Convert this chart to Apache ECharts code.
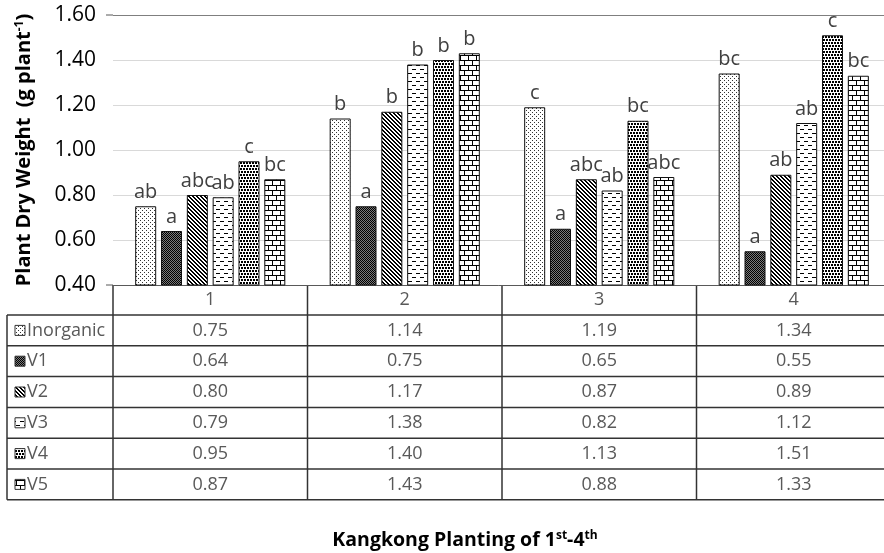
<!DOCTYPE html>
<html>
<head>
<meta charset="utf-8">
<script src="https://cdn.jsdelivr.net/npm/echarts@6/dist/echarts.min.js"></script>
<style>
  html, body { margin: 0; padding: 0; background: #fff; }
  #chart { width: 884px; height: 553px; }
</style>
</head>
<body>
<div id="chart"></div>
<script>
// data
const plantings = ['1', '2', '3', '4']
const seriesNames = ['Inorganic', 'V1', 'V2', 'V3', 'V4', 'V5']
const inorganic = [0.75, 1.14, 1.19, 1.34]
const v1 = [0.64, 0.75, 0.65, 0.55]
const v2 = [0.80, 1.17, 0.87, 0.89]
const v3 = [0.79, 1.38, 0.82, 1.12]
const v4 = [0.95, 1.40, 1.13, 1.51]
const v5 = [0.87, 1.43, 0.88, 1.33]
const seriesValues = [inorganic, v1, v2, v3, v4, v5]
// significance letters shown above the bars
const inorganicLetters = ['ab', 'b', 'c', 'bc']
const v1Letters = ['a', 'a', 'a', 'a']
const v2Letters = ['abc', 'b', 'abc', 'ab']
const v3Letters = ['ab', 'b', 'ab', 'ab']
const v4Letters = ['c', 'b', 'bc', 'c']
const v5Letters = ['bc', 'b', 'abc', 'bc']
const seriesLetters = [inorganicLetters, v1Letters, v2Letters, v3Letters, v4Letters, v5Letters]
const yTicks = [0.4, 0.6, 0.8, 1.0, 1.2, 1.4, 1.6]

const FONT = '"Open Sans", Lato, sans-serif'

// small canvas patterns for the black & white fills
const makePattern = (w, h, draw) => {
  const c = document.createElement('canvas')
  c.width = w
  c.height = h
  const g = c.getContext('2d')
  g.fillStyle = '#fff'
  g.fillRect(0, 0, w, h)
  g.fillStyle = '#000'
  draw(g)
  return { image: c, repeat: 'repeat' }
}

const patterns = [
  // inorganic: sparse dots
  makePattern(4, 4, g => { g.fillStyle = '#333'; g.fillRect(0, 0, 1, 1); g.fillRect(2, 2, 1, 1) }),
  // V1: dark fine checker
  makePattern(2, 2, g => { g.fillRect(0, 0, 2, 2); g.fillStyle = '#7a7a7a'; g.fillRect(1, 0, 1, 1); g.fillRect(0, 1, 1, 1) }),
  // V2: diagonal lines
  makePattern(4, 4, g => { for (let i = 0; i < 4; i++) { g.fillRect(i, i, 1, 1); g.fillRect((i + 1) % 4, i, 1, 1) } }),
  // V3: staggered dashes
  makePattern(8, 8, g => { g.fillRect(0, 1, 4, 1); g.fillRect(4, 5, 4, 1) }),
  // V4: staggered squares
  makePattern(6, 6, g => { g.fillRect(0, 0, 2, 2); g.fillRect(3, 0, 2, 2); g.fillRect(1, 3, 2, 2); g.fillRect(4, 3, 2, 2) }),
  // V5: bricks
  makePattern(8, 10, g => { g.fillRect(0, 0, 8, 1); g.fillRect(0, 5, 8, 1); g.fillRect(0, 0, 1, 5); g.fillRect(4, 5, 1, 5) })
]

const chart = echarts.init(document.getElementById('chart'))

const splitColors = yTicks.map((t, i) => (i === yTicks.length - 1 ? '#7f7f7f' : '#d9d9d9'))

const option = {
  animation: false,
  backgroundColor: '#fff',
  grid: { left: 113, top: 15, width: 778, height: 270, outerBoundsMode: 'none' },
  xAxis: {
    type: 'category',
    data: plantings,
    axisLabel: { show: false },
    axisTick: { show: false },
    axisLine: { lineStyle: { color: '#595959', width: 1 } }
  },
  yAxis: {
    type: 'value',
    min: yTicks[0],
    max: yTicks[yTicks.length - 1],
    interval: 0.2,
    axisLine: { show: false },
    axisTick: { show: false },
    axisLabel: {
      formatter: v => v.toFixed(2),
      fontSize: 21,
      fontFamily: FONT,
      color: '#000',
      margin: 17
    },
    splitLine: { lineStyle: { color: splitColors, width: 1 } },
    name: '{a|Plant Dry Weight  (g plant}{s|-1}{a|)}',
    nameLocation: 'middle',
    nameRotate: 90,
    nameGap: 79,
    nameTextStyle: {
      rich: {
        a: { fontSize: 20, fontWeight: 'bold', fontFamily: FONT, color: '#000' },
        s: { fontSize: 12, fontWeight: 'bold', fontFamily: FONT, color: '#000', verticalAlign: 'top' }
      }
    }
  },
  series: seriesNames.map((name, s) => ({
    name,
    type: 'bar',
    data: seriesValues[s],
    barWidth: 21,
    barGap: '23%',
    itemStyle: { color: patterns[s], borderColor: '#111', borderWidth: 1 },
    label: {
      show: true,
      position: 'top',
      distance: 4,
      fontSize: 20,
      fontFamily: FONT,
      color: '#404040',
      formatter: p => seriesLetters[s][p.dataIndex]
    }
  }))
}

chart.setOption(option)

// data table under the axis, built from the same arrays
const buildTable = () => {
  const yBottom = chart.convertToPixel({ yAxisIndex: 0 }, yTicks[0])
  const yTop = chart.convertToPixel({ yAxisIndex: 0 }, yTicks[yTicks.length - 1])
  const centers = plantings.map((p, i) => chart.convertToPixel({ xAxisIndex: 0 }, i))
  const catW = centers[1] - centers[0]
  const left = 113
  const tableLeft = 7
  const headerBottom = yBottom + 30
  const rowH = 30.8
  const tableBottom = headerBottom + rowH * seriesNames.length
  const lineStyle = { stroke: '#333', lineWidth: 1.5 }
  const els = []

  // horizontal rules
  for (let r = 0; r <= seriesNames.length; r++) {
    const y = headerBottom + rowH * r
    els.push({ type: 'line', shape: { x1: tableLeft, y1: y, x2: 884, y2: y }, style: lineStyle })
  }
  // vertical rules
  els.push({ type: 'line', shape: { x1: tableLeft, y1: headerBottom, x2: tableLeft, y2: tableBottom }, style: lineStyle })
  els.push({ type: 'line', shape: { x1: left, y1: yBottom, x2: left, y2: tableBottom }, style: lineStyle })
  centers.slice(1).forEach(c => {
    const x = c - catW / 2
    els.push({ type: 'line', shape: { x1: x, y1: yBottom, x2: x, y2: tableBottom }, style: lineStyle })
  })
  // small ticks at the ends of the value axis
  ;[yBottom, yTop].forEach(y => {
    els.push({ type: 'line', shape: { x1: left - 7, y1: y, x2: left, y2: y }, style: { stroke: '#595959', lineWidth: 1 } })
  })

  // header row
  plantings.forEach((p, i) => {
    els.push({
      type: 'text', x: centers[i], y: yBottom + 15,
      style: { text: p, fill: '#595959', font: '18px ' + FONT, textAlign: 'center', textVerticalAlign: 'middle' }
    })
  })

  // value rows
  seriesNames.forEach((name, s) => {
    const cy = headerBottom + rowH * s + rowH / 2
    els.push({
      type: 'rect', shape: { x: 15, y: cy - 5, width: 10, height: 10 },
      style: { fill: patterns[s], stroke: '#333', lineWidth: 1 }
    })
    els.push({
      type: 'text', x: 27, y: cy,
      style: { text: name, fill: '#595959', font: '18px ' + FONT, textAlign: 'left', textVerticalAlign: 'middle' }
    })
    seriesValues[s].forEach((v, i) => {
      els.push({
        type: 'text', x: centers[i], y: cy,
        style: { text: v.toFixed(2), fill: '#595959', font: '18px ' + FONT, textAlign: 'center', textVerticalAlign: 'middle' }
      })
    })
  })

  // x title
  els.push({
    type: 'text', x: 465, y: 540,
    style: {
      text: '{a|Kangkong Planting of 1}{s|st}{a|-4}{s|th}',
      textAlign: 'center',
      textVerticalAlign: 'middle',
      rich: {
        a: { fontSize: 19.5, fontWeight: 'bold', fontFamily: FONT, fill: '#000' },
        s: { fontSize: 12, fontWeight: 'bold', fontFamily: FONT, fill: '#000', verticalAlign: 'top' }
      }
    }
  })

  chart.setOption({ graphic: { elements: els } })
}

buildTable()
</script>
</body>
</html>
